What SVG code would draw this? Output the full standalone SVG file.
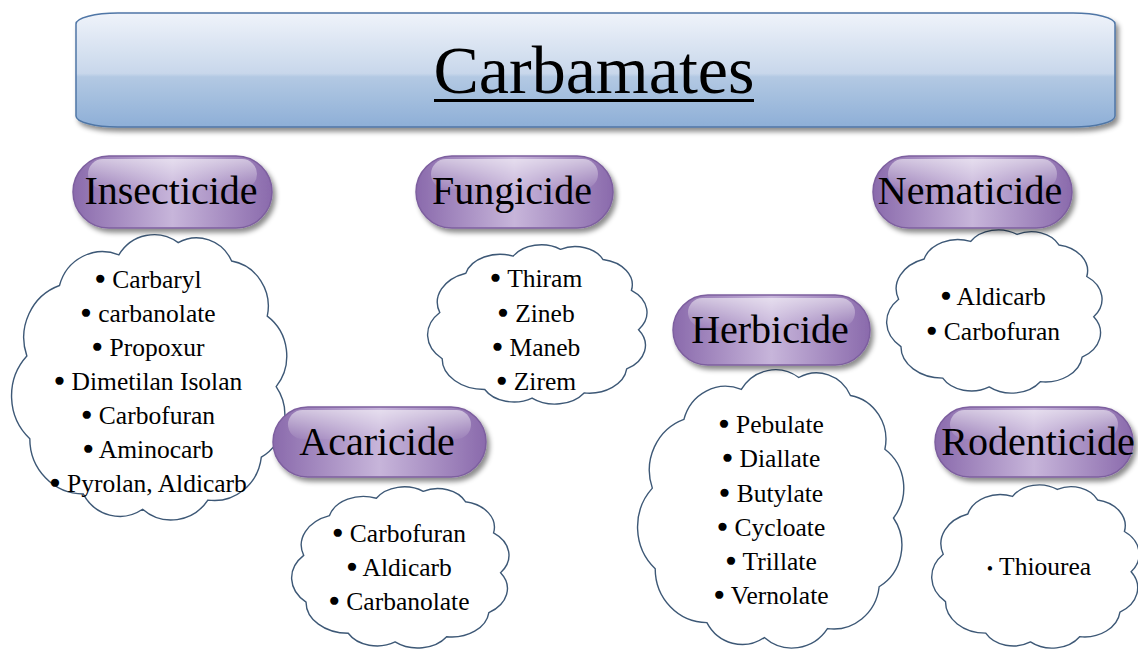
<svg xmlns="http://www.w3.org/2000/svg" xmlns:xlink="http://www.w3.org/1999/xlink" width="1138" height="649" viewBox="0 0 1138 649">
  <style>
    .title { font-family: "Liberation Serif", "Times New Roman", serif; font-size: 68px; fill: #000; text-anchor: middle; }
    .pilltxt { font-family: "Liberation Serif", "Times New Roman", serif; font-size: 40px; fill: #000; text-anchor: middle; }
    .item { font-family: "Liberation Serif", "Times New Roman", serif; font-size: 25.5px; fill: #000; text-anchor: middle; }
    .b { font-size: 19px; }
    .pill { fill: url(#pillGrad); stroke: #7d5f9f; stroke-width: 1.5; filter: url(#shadow); }
    .gloss { fill: url(#glossGrad); }
    .cloud { fill: #fff; stroke: #3d5876; stroke-width: 1.4; vector-effect: non-scaling-stroke; }
  </style>
  <defs>
    <linearGradient id="bannerGrad" x1="0" y1="0" x2="0" y2="1">
      <stop offset="0" stop-color="#eff3fa"/>
      <stop offset="0.53" stop-color="#c8d7eb"/>
      <stop offset="0.56" stop-color="#b3c9e3"/>
      <stop offset="1" stop-color="#8eafd7"/>
    </linearGradient>
    <linearGradient id="pillGrad" x1="0" y1="0" x2="1" y2="0">
      <stop offset="0" stop-color="#8a6aac"/>
      <stop offset="0.5" stop-color="#c7b5da"/>
      <stop offset="1" stop-color="#8a6aac"/>
    </linearGradient>
    <linearGradient id="glossGrad" x1="0" y1="0" x2="0" y2="1">
      <stop offset="0" stop-color="#ffffff" stop-opacity="0.55"/>
      <stop offset="1" stop-color="#ffffff" stop-opacity="0.05"/>
    </linearGradient>
    <filter id="shadow" x="-10%" y="-20%" width="125%" height="150%">
      <feDropShadow dx="3" dy="4" stdDeviation="2.5" flood-color="#000" flood-opacity="0.45"/>
    </filter>
    <path id="cloud" class="cloud" d="M10,72 A19,19 0 0 1 9,45 A18,18 0 0 1 20,22 A15,15 0 0 1 40,12 A14,14 0 0 1 60,8 A13,13 0 0 1 78,14 A15,15 0 0 1 90,32 A16,16 0 0 1 93,55 A16,16 0 0 1 88,78 A16,16 0 0 1 70,92 A15,15 0 0 1 48,95 A14,14 0 0 1 28,90 A18,18 0 0 1 10,72 Z"/>
  </defs>

  <rect width="1138" height="649" fill="#fff"/>

  <g id="connectors"></g>

  <g id="title-node">
    <rect x="76" y="13" width="1039" height="114" rx="42" ry="11" fill="url(#bannerGrad)" stroke="#4f76a6" stroke-width="1.5" filter="url(#shadow)"/>
    <text class="title" x="594" y="93">Carbamates</text>
    <rect x="434" y="99" width="320" height="3" fill="#000"/>
  </g>

  <g id="insecticide-list">
    <use xlink:href="#cloud" transform="translate(0.13,218.1) scale(2.968,3.065)"/>
    <text class="item" x="148" y="288"><tspan class="b" baseline-shift="4">●</tspan> Carbaryl</text>
    <text class="item" x="148" y="322"><tspan class="b" baseline-shift="4">●</tspan> carbanolate</text>
    <text class="item" x="148" y="356"><tspan class="b" baseline-shift="4">●</tspan> Propoxur</text>
    <text class="item" x="148" y="390"><tspan class="b" baseline-shift="4">●</tspan> Dimetilan Isolan</text>
    <text class="item" x="148" y="424"><tspan class="b" baseline-shift="4">●</tspan> Carbofuran</text>
    <text class="item" x="148" y="458"><tspan class="b" baseline-shift="4">●</tspan> Aminocarb</text>
    <text class="item" x="148" y="492"><tspan class="b" baseline-shift="4">●</tspan> Pyrolan, Aldicarb</text>
  </g>

  <g id="fungicide-list">
    <use xlink:href="#cloud" transform="translate(418.5,235.6) scale(2.366,1.71)"/>
    <text class="item" x="536" y="287"><tspan class="b" baseline-shift="4">●</tspan> Thiram</text>
    <text class="item" x="536" y="322"><tspan class="b" baseline-shift="4">●</tspan> Zineb</text>
    <text class="item" x="536" y="356"><tspan class="b" baseline-shift="4">●</tspan> Maneb</text>
    <text class="item" x="536" y="390"><tspan class="b" baseline-shift="4">●</tspan> Zirem</text>
  </g>

  <g id="acaricide-list">
    <use xlink:href="#cloud" transform="translate(282.6,477.5) scale(2.344,1.731)"/>
    <text class="item" x="399" y="542"><tspan class="b" baseline-shift="4">●</tspan> Carbofuran</text>
    <text class="item" x="399" y="576"><tspan class="b" baseline-shift="4">●</tspan> Aldicarb</text>
    <text class="item" x="399" y="610"><tspan class="b" baseline-shift="4">●</tspan> Carbanolate</text>
  </g>

  <g id="herbicide-list">
    <use xlink:href="#cloud" transform="translate(626.5,353.6) scale(2.871,2.989)"/>
    <text class="item" x="771" y="433"><tspan class="b" baseline-shift="4">●</tspan> Pebulate</text>
    <text class="item" x="771" y="467"><tspan class="b" baseline-shift="4">●</tspan> Diallate</text>
    <text class="item" x="771" y="502"><tspan class="b" baseline-shift="4">●</tspan> Butylate</text>
    <text class="item" x="771" y="536"><tspan class="b" baseline-shift="4">●</tspan> Cycloate</text>
    <text class="item" x="771" y="570"><tspan class="b" baseline-shift="4">●</tspan> Trillate</text>
    <text class="item" x="771" y="604"><tspan class="b" baseline-shift="4">●</tspan> Vernolate</text>
  </g>

  <g id="nematicide-list">
    <use xlink:href="#cloud" transform="translate(877.7,220.4) scale(2.323,1.753)"/>
    <text class="item" x="993" y="305"><tspan class="b" baseline-shift="4">●</tspan> Aldicarb</text>
    <text class="item" x="993" y="340"><tspan class="b" baseline-shift="4">●</tspan> Carbofuran</text>
  </g>

  <g id="rodenticide-list">
    <use xlink:href="#cloud" transform="translate(923.1,475.4) scale(2.237,1.753)"/>
    <text class="item" x="1039" y="575"><tspan font-size="18">•</tspan> Thiourea</text>
  </g>

  <g id="insecticide">
    <rect class="pill" x="73" y="156" width="199" height="72" rx="36"/>
    <rect class="gloss" x="88" y="159" width="169" height="30" rx="15"/>
    <text class="pilltxt" x="171" y="204">Insecticide</text>
  </g>
  <g id="fungicide">
    <rect class="pill" x="416" y="156" width="197" height="72" rx="36"/>
    <rect class="gloss" x="431" y="159" width="167" height="30" rx="15"/>
    <text class="pilltxt" x="512" y="204">Fungicide</text>
  </g>
  <g id="nematicide">
    <rect class="pill" x="873" y="156" width="199" height="72" rx="36"/>
    <rect class="gloss" x="888" y="159" width="169" height="30" rx="15"/>
    <text class="pilltxt" x="970" y="204">Nematicide</text>
  </g>
  <g id="herbicide">
    <rect class="pill" x="673" y="295" width="197" height="70" rx="35"/>
    <rect class="gloss" x="688" y="298" width="167" height="29" rx="14.5"/>
    <text class="pilltxt" x="770" y="343">Herbicide</text>
  </g>
  <g id="acaricide">
    <rect class="pill" x="273" y="407" width="213" height="70" rx="35"/>
    <rect class="gloss" x="288" y="410" width="183" height="29" rx="14.5"/>
    <text class="pilltxt" x="377" y="455">Acaricide</text>
  </g>
  <g id="rodenticide">
    <rect class="pill" x="935" y="407" width="198" height="70" rx="35"/>
    <rect class="gloss" x="950" y="410" width="168" height="29" rx="14.5"/>
    <text class="pilltxt" x="1038" y="455">Rodenticide</text>
  </g>
</svg>
